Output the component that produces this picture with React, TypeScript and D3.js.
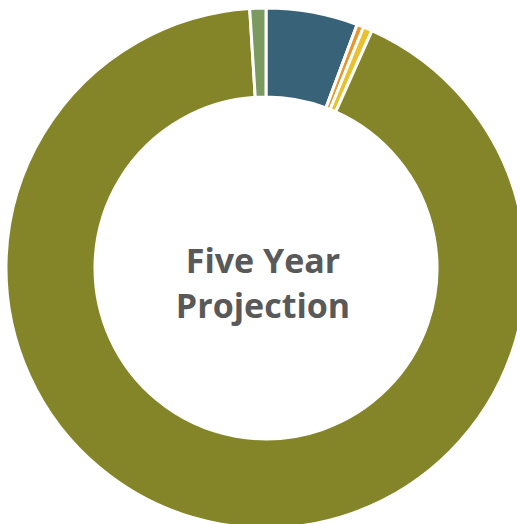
import React from "react";
import * as d3 from "d3";

const categories = ["Blue", "Orange", "Yellow", "Olive", "Green"];
const values = [5.7, 0.42, 0.56, 92.3, 1.0];
const colors = ["#376278", "#E8952A", "#E8C22E", "#848529", "#7A9A5F"];
const titleLines = ["Five Year", "Projection"];

export default function App() {
  const W = 517, H = 524;
  const cx = 266, cy = 268, R = 260, r = 171;
  const pie = d3.pie<number>().sort(null).value((d) => d)(values);
  const arc = d3.arc<d3.PieArcDatum<number>>().innerRadius(r).outerRadius(R);
  return (
    <svg width={W} height={H} style={{ position: "absolute", left: 0, top: 0 }}>
      <g transform={`translate(${cx},${cy})`}>
        {pie.map((p, i) => (
          <path key={categories[i]} d={arc(p) || ""} fill={colors[i]} stroke="#fff" strokeWidth={3} />
        ))}
        {titleLines.map((t, i) => (
          <text key={t} x={-3} y={i === 0 ? 5 : 50} textAnchor="middle" fontFamily="'Open Sans', sans-serif" fontWeight={700} fontSize={34} fill="#595959">
            {t}
          </text>
        ))}
      </g>
    </svg>
  );
}
